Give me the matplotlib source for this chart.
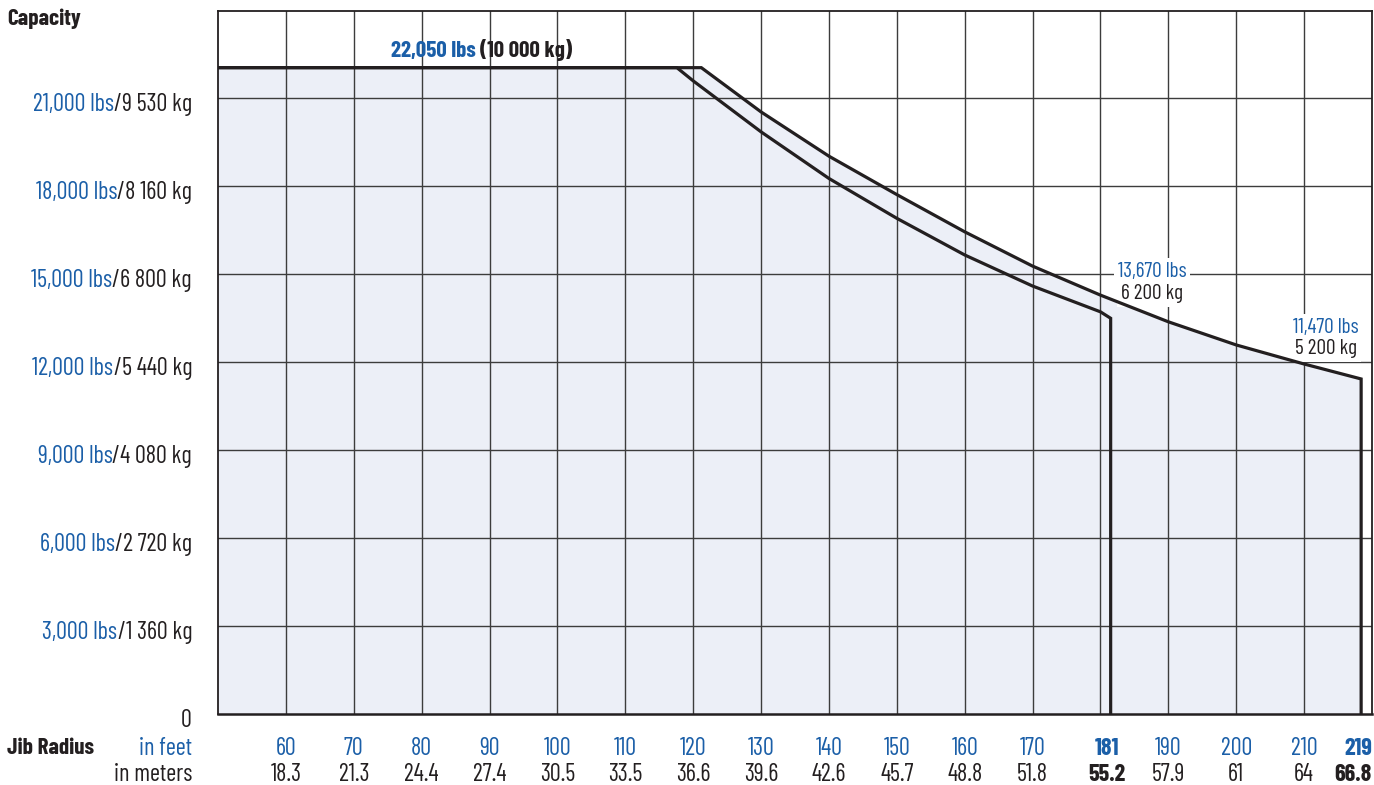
import numpy as np
import matplotlib
matplotlib.use("Agg")
import matplotlib.pyplot as plt
from matplotlib.transforms import blended_transform_factory, offset_copy

plt.rcParams['font.family'] = ['Barlow Condensed', 'Roboto Condensed', 'PT Sans Narrow',
                               'Archivo Narrow', 'Liberation Sans Narrow', 'DejaVu Sans']

BLUE = '#1b5fa8'
DARK = '#231f20'
FILL = '#eceff7'
GRID = '#3c3c3c'

# capacity curves (radius in feet, capacity in lbs)
outer_ft = [50, 121.2, 130, 140, 150, 160, 170, 180, 190, 200, 210, 218.4]
outer_lbs = [22050, 22050, 20540, 19030, 17720, 16450, 15280, 14290, 13380, 12590, 11940, 11430]
inner_ft = [50, 117.6, 120, 130, 140, 150, 160, 170, 180, 181.5]
inner_lbs = [22050, 22050, 21600, 19860, 18270, 16910, 15660, 14600, 13720, 13500]

feet_ticks = [60, 70, 80, 90, 100, 110, 120, 130, 140, 150, 160, 170, 181, 190, 200, 210, 219]
meter_labels = ['18.3', '21.3', '24.4', '27.4', '30.5', '33.5', '36.6', '39.6', '42.6',
                '45.7', '48.8', '51.8', '55.2', '57.9', '61', '64', '66.8']
bold_ticks = [181, 219]

lbs_ticks = [3000, 6000, 9000, 12000, 15000, 18000, 21000]
kg_labels = ['1 360', '2 720', '4 080', '5 440', '6 800', '8 160', '9 530']

grid_ft = list(range(60, 220, 10))

fig = plt.figure(figsize=(13.74, 7.85), dpi=100)
ax = fig.add_axes([218 / 1374, 71 / 785, 1154 / 1374, 703.5 / 785])
ax.set_xlim(50, 220)
ax.set_ylim(0, 24000)

renderer = fig.canvas.get_renderer()


def fit_size(s, width_px, weight='normal'):
    t = fig.text(0, 0, s, fontsize=10, fontweight=weight)
    w = t.get_window_extent(renderer).width
    t.remove()
    return 10 * width_px / w


fs = fit_size('18,000 lbs/8 160 kg', 157)
fs_b = fit_size('Jib Radius', 87, 'bold')
fs_t = fit_size('22,050 lbs (10 000 kg)', 181, 'bold')
fs_a = fit_size('13,670 lbs', 69)

# shaded area under the long jib curve
ax.fill_between(outer_ft, 0, outer_lbs, color=FILL, lw=0, zorder=1)

for x in grid_ft:
    ax.axvline(x, color=GRID, lw=1.0, zorder=2)
for y in lbs_ticks:
    ax.axhline(y, color=GRID, lw=1.0, zorder=2)

ax.plot(outer_ft + [outer_ft[-1]], outer_lbs + [0], color=DARK, lw=2.3, zorder=4,
        solid_joinstyle='miter')
ax.plot(inner_ft + [inner_ft[-1]], inner_lbs + [0], color=DARK, lw=2.3, zorder=4,
        solid_joinstyle='miter')

ax.set_xticks([])
ax.set_yticks([])
for s in ax.spines.values():
    s.set_color(DARK)
    s.set_linewidth(1.3)
ax.spines['bottom'].set_linewidth(1.8)

# y labels: blue lbs part followed by dark kg part
ytr = offset_copy(blended_transform_factory(fig.transFigure, ax.transData),
                  fig=fig, y=-13, units='dots')
lx = 192 / 1374
for lbs, kg in zip(lbs_ticks, kg_labels):
    t = ax.text(lx, lbs, '/' + kg + ' kg', transform=ytr, ha='right', va='baseline',
                color=DARK, fontsize=fs)
    ax.annotate(f'{lbs:,} lbs', xy=(0, 0), xycoords=t, ha='right', va='bottom',
                color=BLUE, fontsize=fs)
ax.text(lx, 0, '0', transform=ytr, ha='right', va='baseline', color=DARK, fontsize=fs)

# x labels
xtr = blended_transform_factory(ax.transData, fig.transFigure)
yf = (785 - 755) / 785
ym = (785 - 781) / 785
for ft, m in zip(feet_ticks, meter_labels):
    w = 'bold' if ft in bold_ticks else 'normal'
    if ft == feet_ticks[-1]:
        tr = blended_transform_factory(ax.transAxes, fig.transFigure)
        xp, ha = 1.0, 'right'
    else:
        tr, xp, ha = xtr, ft, 'center'
    ax.text(xp, yf, str(ft), transform=tr, ha=ha, va='baseline', color=BLUE,
            fontsize=fs, fontweight=w)
    ax.text(xp, ym, m, transform=tr, ha=ha, va='baseline', color=DARK,
            fontsize=fs, fontweight=w)

fig.text(lx, yf, 'in feet', ha='right', va='baseline', color=BLUE, fontsize=fs)
fig.text(lx, ym, 'in meters', ha='right', va='baseline', color=DARK, fontsize=fs)
fig.text(7 / 1374, (785 - 754) / 785, 'Jib Radius', ha='left', va='baseline', color=DARK,
         fontsize=fs_b, fontweight='bold')
fig.text(7 / 1374, (785 - 25) / 785, 'Capacity', ha='left', va='baseline', color=DARK,
         fontsize=fs_b, fontweight='bold')

# annotations
atr = blended_transform_factory(ax.transData, fig.transFigure)
t = ax.text(50 + (390.7 - 218) / 6.79, (785 - 57) / 785, '22,050 lbs ', transform=atr,
            ha='left', va='baseline', color=BLUE, fontsize=fs_t, fontweight='bold')
ax.annotate('(10 000 kg)', xy=(1, 0), xycoords=t, ha='left', va='bottom', color=DARK,
            fontsize=fs_t, fontweight='bold')

box = dict(boxstyle='square,pad=0.18', fc='white', ec='none')
for x, b1, b2, top, bot in [(187.6, 277, 299, '13,670 lbs', '6 200 kg'),
                            (213.2, 333, 354, '11,470 lbs', '5 200 kg')]:
    ax.text(x, (785 - b1) / 785, top, transform=atr, ha='center', va='baseline',
            color=BLUE, fontsize=fs_a, zorder=3, bbox=box)
    ax.text(x, (785 - b2) / 785, bot, transform=atr, ha='center', va='baseline',
            color=DARK, fontsize=fs_a, zorder=3, bbox=box)

fig.savefig('out.png', dpi=100)
